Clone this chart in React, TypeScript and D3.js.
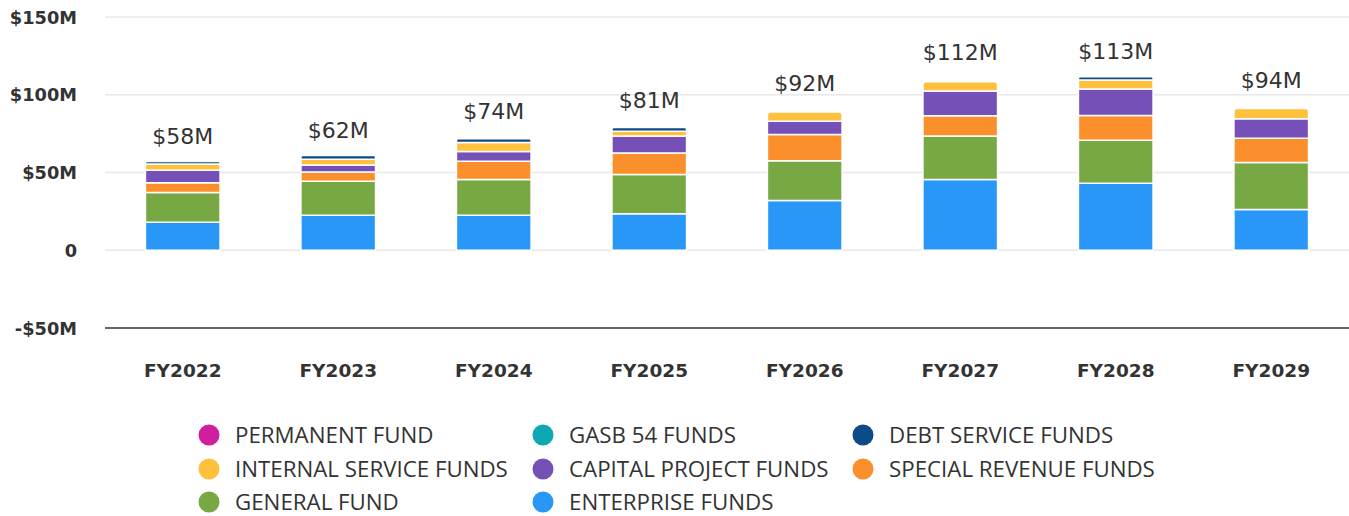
import * as d3 from "d3";
import { useEffect, useRef } from "react";

const years = ["FY2022", "FY2023", "FY2024", "FY2025", "FY2026", "FY2027", "FY2028", "FY2029"];

// stacked from bottom to top
const enterprise = [18.0, 22.5, 22.5, 23.4, 32.0, 45.5, 43.1, 26.2];
const generalFund = [19.2, 21.9, 23.0, 25.3, 25.5, 27.9, 27.7, 30.3];
const specialRevenue = [6.2, 6.0, 11.8, 13.8, 17.0, 13.1, 15.9, 15.6];
const capitalProject = [8.1, 4.5, 6.2, 10.9, 8.4, 15.9, 17.0, 12.5];
const internalService = [3.9, 3.7, 5.8, 3.2, 6.0, 6.0, 5.8, 6.6];
const debtService = [1.7, 2.4, 2.4, 2.4, 0, 0, 2.1, 0];
const gasb54 = [0, 0, 0, 0, 0, 0, 0, 0];
const permanent = [0, 0, 0, 0, 0, 0, 0, 0];

const totals = [58, 62, 74, 81, 92, 112, 113, 94];
const yTicks = [-50, 0, 50, 100, 150];

const series = [
  { key: "enterprise", name: "ENTERPRISE FUNDS", color: "#2897f7", values: enterprise },
  { key: "general", name: "GENERAL FUND", color: "#77a844", values: generalFund },
  { key: "special", name: "SPECIAL REVENUE FUNDS", color: "#fb8f2b", values: specialRevenue },
  { key: "capital", name: "CAPITAL PROJECT FUNDS", color: "#7450b7", values: capitalProject },
  { key: "internal", name: "INTERNAL SERVICE FUNDS", color: "#ffc13d", values: internalService },
  { key: "debt", name: "DEBT SERVICE FUNDS", color: "#0c4a88", values: debtService },
  { key: "gasb", name: "GASB 54 FUNDS", color: "#0ea8b4", values: gasb54 },
  { key: "permanent", name: "PERMANENT FUND", color: "#d01f9e", values: permanent },
];

const legendOrder = [
  "permanent", "gasb", "debt",
  "internal", "capital", "special",
  "general", "enterprise",
];

export default function App() {
  const ref = useRef<SVGSVGElement>(null);

  useEffect(() => {
    if (!ref.current) return;
    const el = ref.current;
    d3.select(el).selectAll("*").remove();

    const W = 1349;
    const H = 516;
    const left = 105;
    const right = 1349;
    const yTop = 17;
    const yBottom = 328;
    const textColor = "#333333";

    const svg = d3.select(el).attr("width", W).attr("height", H);

    const x = d3.scaleBand().domain(years).range([left, right]).paddingInner(0.52).paddingOuter(0.26);
    const y = d3.scaleLinear().domain([-50, 150]).range([yBottom, yTop]);

    // grid
    svg
      .append("g")
      .selectAll("line")
      .data(yTicks)
      .join("line")
      .attr("x1", left)
      .attr("x2", right)
      .attr("y1", d => y(d))
      .attr("y2", d => y(d))
      .attr("stroke", d => (d === -50 ? "#333333" : "#e8e8e8"))
      .attr("stroke-width", d => (d === -50 ? 1.6 : 1.5));

    // y labels
    svg
      .append("g")
      .selectAll("text")
      .data(yTicks)
      .join("text")
      .attr("x", 77)
      .attr("y", d => y(d) + 6.5)
      .attr("text-anchor", "end")
      .attr("font-family", "'DejaVu Sans', sans-serif")
      .attr("font-weight", 700)
      .attr("font-size", 17.8)
      .attr("fill", textColor)
      .text(d => (d === 0 ? "0" : d < 0 ? `-$${-d}M` : `$${d}M`));

    // stack
    const rows = years.map((yr, i) => {
      const r: Record<string, number | string> = { year: yr };
      series.forEach(s => (r[s.key] = s.values[i]));
      return r;
    });
    const stack = d3.stack<any>().keys(series.map(s => s.key))(rows as any);

    const topKey = years.map((_, i) => {
      let k = "";
      series.forEach(s => {
        if (s.values[i] > 0) k = s.key;
      });
      return k;
    });

    const bw = x.bandwidth();
    stack.forEach((layer, li) => {
      const s = series[li];
      svg
        .append("g")
        .selectAll("path")
        .data(layer.map((d, i) => ({ d, i })).filter(o => o.d[1] - o.d[0] > 0))
        .join("path")
        .attr("fill", s.color)
        .attr("stroke", "#ffffff")
        .attr("stroke-width", 1.5)
        .attr("d", ({ d, i }) => {
          const x0 = x(years[i])!;
          const y0 = y(d[0]);
          const y1 = y(d[1]);
          const r = topKey[i] === s.key ? Math.min(3, (y0 - y1) / 2) : 0;
          const p = d3.path();
          p.moveTo(x0, y0);
          p.lineTo(x0, y1 + r);
          if (r > 0) p.arcTo(x0, y1, x0 + r, y1, r);
          p.lineTo(x0 + bw - r, y1);
          if (r > 0) p.arcTo(x0 + bw, y1, x0 + bw, y1 + r, r);
          p.lineTo(x0 + bw, y0);
          p.closePath();
          return p.toString();
        });
    });

    // totals
    svg
      .append("g")
      .selectAll("text")
      .data(totals)
      .join("text")
      .attr("x", (_, i) => x(years[i])! + bw / 2)
      .attr("y", d => y(d) - 16)
      .attr("text-anchor", "middle")
      .attr("font-family", "'DejaVu Sans', sans-serif")
      .attr("font-size", 22)
      .attr("fill", textColor)
      .text(d => `$${d}M`);

    // x labels
    svg
      .append("g")
      .selectAll("text")
      .data(years)
      .join("text")
      .attr("x", d => x(d)! + bw / 2)
      .attr("y", 377)
      .attr("text-anchor", "middle")
      .attr("font-family", "'DejaVu Sans', sans-serif")
      .attr("font-weight", 700)
      .attr("font-size", 18.5)
      .attr("fill", textColor)
      .text(d => d);

    // legend
    const colX = [209, 543, 863];
    const rowY = [435, 469, 502];
    const lg = svg.append("g");
    legendOrder.forEach((k, i) => {
      const s = series.find(ss => ss.key === k)!;
      const cx = colX[i % 3];
      const cy = rowY[Math.floor(i / 3)];
      lg.append("circle").attr("cx", cx).attr("cy", cy).attr("r", 10.5).attr("fill", s.color);
      lg.append("text")
        .attr("x", cx + 26)
        .attr("y", cy + 8)
        .attr("font-family", "'Open Sans', sans-serif")
        .attr("font-size", 22.3)
        .attr("fill", textColor)
        .text(s.name);
    });
  }, []);

  return (
    <svg ref={ref} style={{ position: "absolute", left: 0, top: 0, display: "block" }} />
  );
}
